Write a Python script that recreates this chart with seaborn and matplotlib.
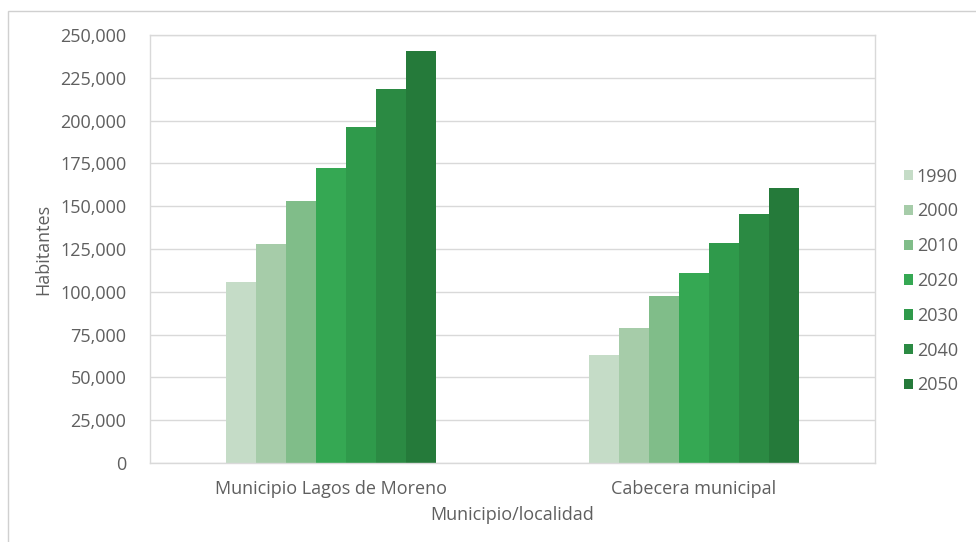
import matplotlib
matplotlib.use("Agg")
import matplotlib.pyplot as plt
import seaborn as sns
import pandas as pd
from matplotlib.patches import Rectangle
from matplotlib.ticker import FuncFormatter

localidades = ["Municipio Lagos de Moreno", "Cabecera municipal"]
anios = ["1990", "2000", "2010", "2020", "2030", "2040", "2050"]
municipio = [105900, 127900, 153200, 172100, 196100, 218300, 240800]
cabecera = [63100, 79000, 97500, 111200, 128700, 145300, 160800]
colores = ["#c5dcc7", "#a6cca9", "#80bd89", "#35a853", "#2f9a4b", "#2b8a43", "#257a3a"]

filas = []
for anio, vm, vc in zip(anios, municipio, cabecera):
    filas.append({"Municipio/localidad": localidades[0], "Año": anio, "Habitantes": vm})
    filas.append({"Municipio/localidad": localidades[1], "Año": anio, "Habitantes": vc})
df = pd.DataFrame(filas)

sns.set_theme(style="white")
plt.rcParams["font.family"] = ["Open Sans", "DejaVu Sans"]
texto = "#5f5f5f"
rejilla = "#d9d9d9"
fs = 13

fig = plt.figure(figsize=(9.76, 5.42), dpi=100)
ax = fig.add_axes([150 / 976, 79 / 542, 725 / 976, 428 / 542])

sns.barplot(data=df, x="Municipio/localidad", y="Habitantes", hue="Año",
            order=localidades, hue_order=anios, palette=colores,
            width=0.58, saturation=1, dodge=True, ax=ax, errorbar=None,
            linewidth=0)

ax.set_ylim(0, 250000)
ax.set_yticks(range(0, 250001, 25000))
ax.yaxis.set_major_formatter(FuncFormatter(lambda v, p: f"{int(v):,}"))
ax.grid(axis="y", color=rejilla, linewidth=1)
ax.set_axisbelow(True)
for s in ax.spines.values():
    s.set_color(rejilla)
    s.set_linewidth(1)

ax.tick_params(axis="both", length=0, colors=texto, labelsize=fs)
ax.tick_params(axis="y", pad=17)
ax.tick_params(axis="x", pad=12)
ax.set_ylabel("Habitantes", color=texto, fontsize=fs, labelpad=6)
ax.set_xlabel("Municipio/localidad", color=texto, fontsize=fs, labelpad=6)

leg = ax.legend(loc="center left", bbox_to_anchor=(904 / 976, (542 - 281) / 542),
                bbox_transform=fig.transFigure, frameon=False,
                fontsize=fs, labelcolor=texto, handlelength=0.5,
                handleheight=0.5, handletextpad=0.2, labelspacing=0.93,
                borderpad=0, borderaxespad=0)

fig.patches.append(Rectangle((8 / 976, -0.1), 1.2, (542 - 11) / 542 + 0.1,
                             transform=fig.transFigure, fill=False,
                             edgecolor="#d0d0d0", linewidth=1))

fig.savefig("out.png", dpi=100, facecolor="white")
